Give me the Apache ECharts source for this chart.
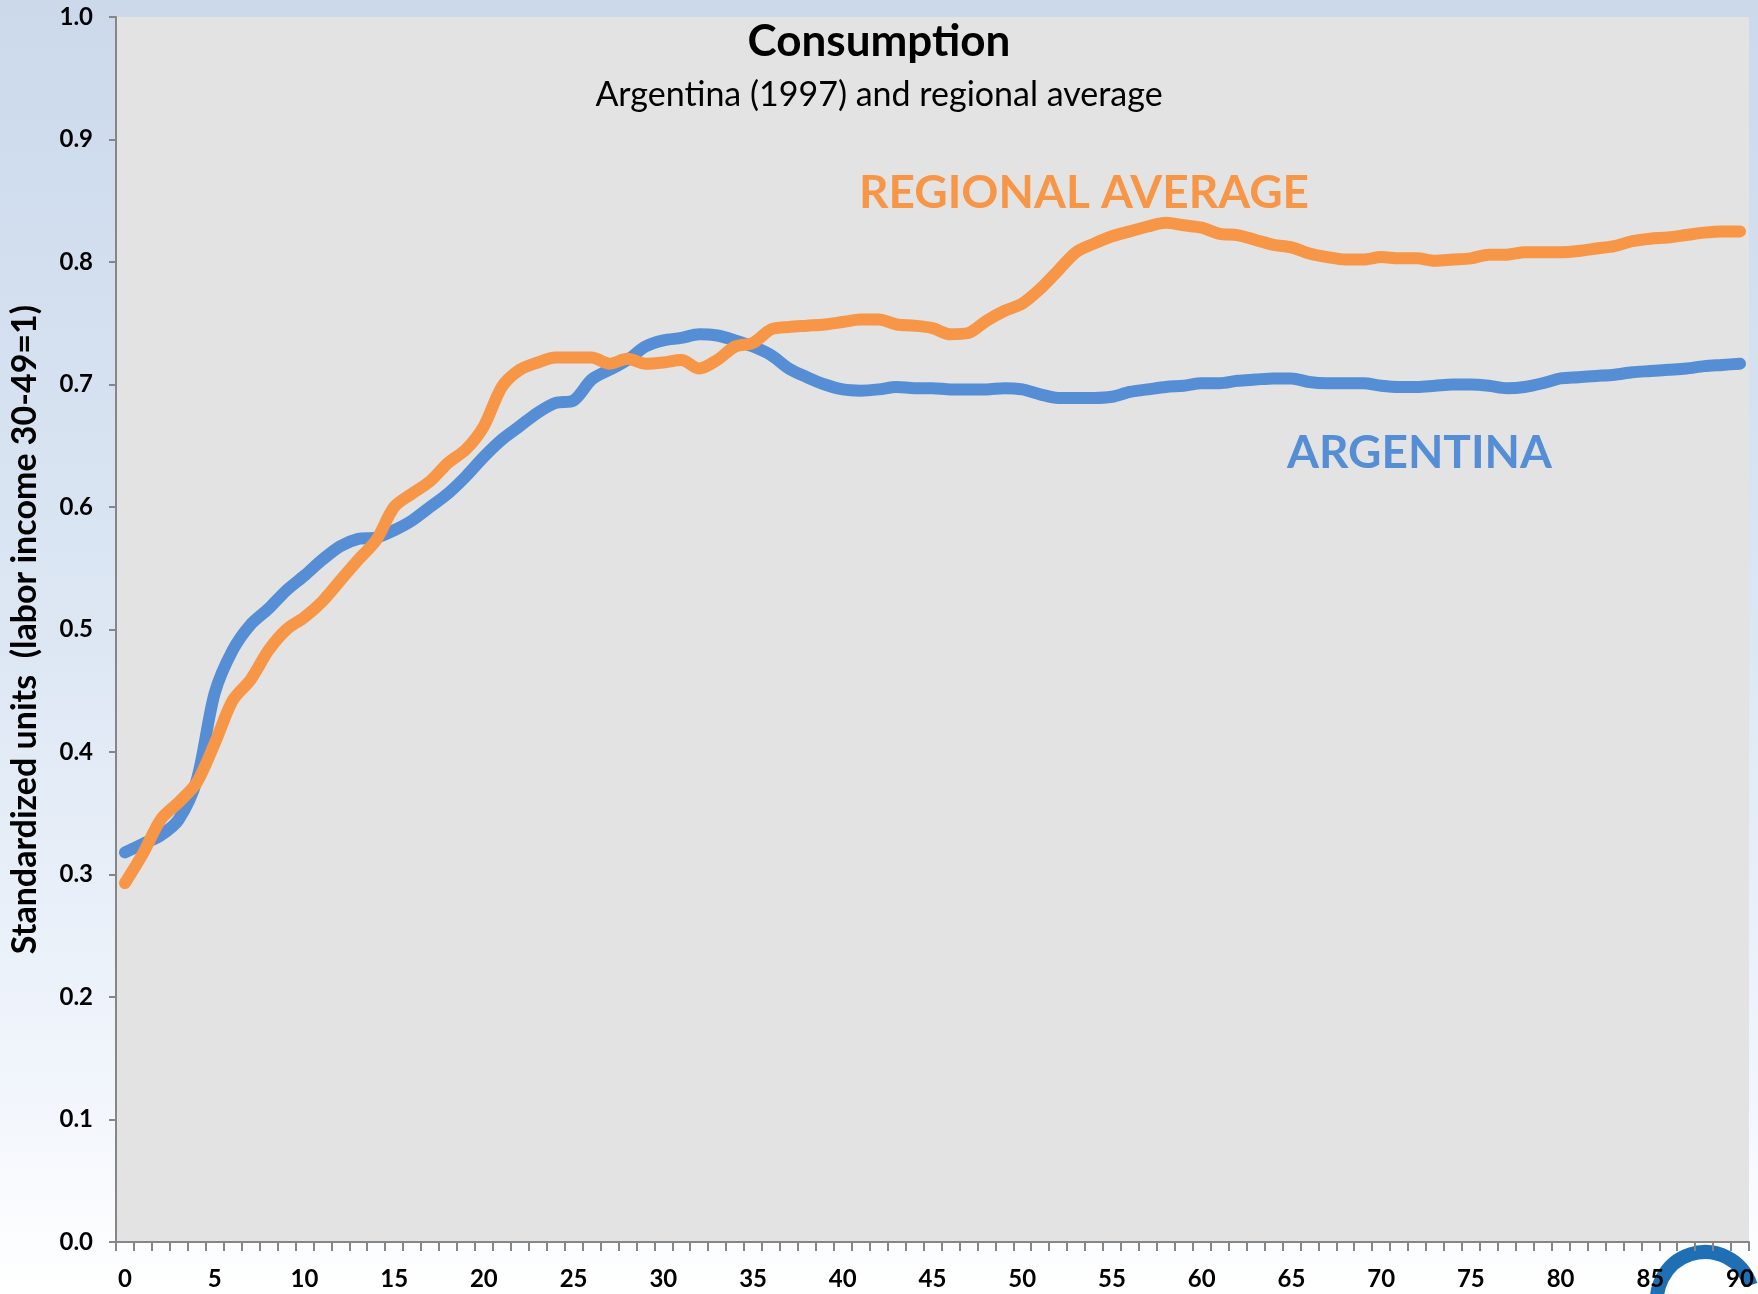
<!DOCTYPE html>
<html>
<head>
<meta charset="utf-8">
<script src="https://cdn.jsdelivr.net/npm/echarts@6/dist/echarts.min.js"></script>
<style>
html,body{margin:0;padding:0;width:1758px;height:1294px;overflow:hidden;background:#fff;}
#chart{width:1758px;height:1294px;}
</style>
</head>
<body>
<div id="chart"></div>
<script>
var ages = [];
for (var i = 0; i <= 90; i++) ages.push(String(i));

var argentina = [
0.318,0.325,0.332,0.345,0.377,0.448,0.483,0.504,0.517,0.532,
0.544,0.557,0.568,0.574,0.575,0.581,0.589,0.600,0.611,0.625,
0.641,0.655,0.666,0.677,0.685,0.687,0.704,0.712,0.720,0.731,
0.736,0.738,0.741,0.740,0.736,0.731,0.724,0.713,0.706,0.700,
0.696,0.695,0.696,0.698,0.697,0.697,0.696,0.696,0.696,0.697,
0.696,0.692,0.689,0.689,0.689,0.690,0.694,0.696,0.698,0.699,
0.701,0.701,0.703,0.704,0.705,0.705,0.702,0.701,0.701,0.701,
0.699,0.698,0.698,0.699,0.700,0.700,0.699,0.697,0.698,0.701,
0.705,0.706,0.707,0.708,0.710,0.711,0.712,0.713,0.715,0.716,
0.717];

var regional = [
0.293,0.317,0.345,0.359,0.375,0.407,0.442,0.459,0.483,0.500,
0.510,0.523,0.540,0.557,0.573,0.600,0.611,0.621,0.636,0.647,
0.666,0.698,0.712,0.718,0.722,0.722,0.722,0.717,0.721,0.717,
0.718,0.720,0.713,0.720,0.731,0.734,0.745,0.747,0.748,0.749,
0.751,0.753,0.753,0.749,0.748,0.746,0.741,0.742,0.752,0.760,
0.766,0.778,0.793,0.808,0.815,0.821,0.825,0.829,0.832,0.830,
0.828,0.823,0.822,0.818,0.814,0.812,0.807,0.804,0.802,0.802,
0.804,0.803,0.803,0.801,0.802,0.803,0.806,0.806,0.808,0.808,
0.808,0.809,0.811,0.813,0.817,0.819,0.820,0.822,0.824,0.825,
0.825];

var titleText = 'Consumption';
var subtitleText = 'Argentina (1997) and regional average';
var yAxisName = 'Standardized units  (labor income 30-49=1)';
var labelRegional = 'REGIONAL AVERAGE';
var labelArgentina = 'ARGENTINA';

var BLUE = '#558ED5';
var ORANGE = '#F79646';
var FONT = 'Lato, "Open Sans", sans-serif';

var chart = echarts.init(document.getElementById('chart'), null, {renderer: 'canvas'});
chart.setOption({
  animation: false,
  backgroundColor: {
    type: 'linear', x: 0, y: 0, x2: 0, y2: 1,
    colorStops: [
      {offset: 0, color: '#cbd9eb'},
      {offset: 0.5, color: '#dde7f4'},
      {offset: 0.85, color: '#f2f6fc'},
      {offset: 1, color: '#ffffff'}
    ]
  },
  title: [
    {text: titleText, left: 'center', top: 15,
     textStyle: {fontFamily: FONT, fontSize: 44, fontWeight: 'bold', color: '#000'}},
    {text: subtitleText, left: 'center', top: 73,
     textStyle: {fontFamily: FONT, fontSize: 34, fontWeight: 'normal', color: '#000'}}
  ],
  grid: {
    left: 114, right: 9, top: 17, bottom: 52,
    show: true, backgroundColor: '#e3e3e3', borderWidth: 0
  },
  xAxis: {
    type: 'category',
    data: ages,
    boundaryGap: true,
    axisLine: {lineStyle: {color: '#868686', width: 2}},
    axisTick: {show: true, interval: 0, length: 9, lineStyle: {color: '#868686', width: 2}},
    axisLabel: {interval: 4, margin: 25, fontFamily: FONT, fontSize: 24, fontWeight: 'bold', color: '#000'},
    splitLine: {show: false}
  },
  yAxis: {
    type: 'value',
    min: 0, max: 1, interval: 0.1,
    name: yAxisName,
    nameLocation: 'middle',
    nameGap: 74,
    nameTextStyle: {fontFamily: FONT, fontSize: 34, fontWeight: 'bold', color: '#000'},
    axisLine: {show: true, lineStyle: {color: '#868686', width: 2}},
    axisTick: {show: true, length: 7, lineStyle: {color: '#868686', width: 2}},
    axisLabel: {margin: 23, fontFamily: FONT, fontSize: 24, fontWeight: 'bold', color: '#000',
      formatter: function (v) { return v.toFixed(1); }},
    splitLine: {show: false}
  },
  series: [
    {name: 'Argentina', type: 'line', data: argentina, showSymbol: false, symbol: 'none', smooth: 0.3,
     lineStyle: {color: BLUE, width: 12, cap: 'round', join: 'round'}, itemStyle: {color: BLUE}},
    {name: 'Regional average', type: 'line', data: regional, showSymbol: false, symbol: 'none', smooth: 0.3,
     lineStyle: {color: ORANGE, width: 12, cap: 'round', join: 'round'}, itemStyle: {color: ORANGE}}
  ],
  graphic: [
    {type: 'text', left: 1084 - 225, top: 191 - 21,
     style: {text: labelRegional, fill: ORANGE, font: 'bold 46px ' + FONT}},
    {type: 'text', left: 1419 - 132, top: 451 - 21,
     style: {text: labelArgentina, fill: BLUE, font: 'bold 46px ' + FONT}},
    {type: 'arc', left: 1650, top: 1245,
     shape: {cx: 60, cy: 60, r: 48, startAngle: Math.PI * 0.9, endAngle: Math.PI * 1.9},
     style: {stroke: '#1f6fb5', lineWidth: 14, fill: null}, z: -1}
  ]
});
</script>
</body>
</html>
